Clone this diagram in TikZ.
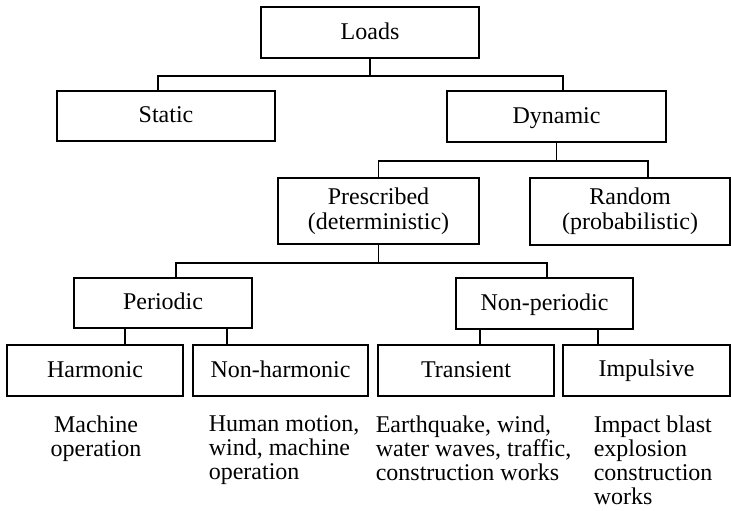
\documentclass[tikz,border=0pt]{standalone}
\usepackage{fontspec}
\setmainfont{Liberation Serif}
\usetikzlibrary{positioning}

\begin{document}
\begin{tikzpicture}[x=0.5pt, y=-0.5pt, line width=0.8pt,
    loadbox/.style={draw, inner sep=0pt, align=center, font=\fontsize{12}{12.5}\selectfont},
    oneline/.style={text height=8.2pt, text depth=1.4pt},
    note/.style={inner sep=0pt, anchor=north west, align=left, font=\fontsize{12}{12}\selectfont}]
  \useasboundingbox (0,0) rectangle (731,510);
  % Top: loads split into static and dynamic
  \node[loadbox, oneline, minimum width=109pt, minimum height=25.5pt] (loads) at (370,32.5) {Loads};
  \node[loadbox, oneline, minimum width=109pt, minimum height=25pt] (static) at (166,116) {Static};
  \node[loadbox, oneline, minimum width=109.5pt, minimum height=25.5pt] (dynamic) at (556.5,116.5) {Dynamic};
  % Dynamic loads
  \node[loadbox, minimum width=100.5pt, minimum height=33pt] (prescribed) at (378.5,211) {Prescribed\\(deterministic)};
  \node[loadbox, minimum width=100pt, minimum height=33.5pt] (random) at (630,211.5) {Random\\(probabilistic)};
  % Prescribed loads
  \node[loadbox, oneline, minimum width=89pt, minimum height=25pt] (periodic) at (163,303) {Periodic};
  \node[loadbox, oneline, minimum width=88.5pt, minimum height=25.5pt] (nonperiodic) at (544.5,303.5) {Non-periodic};
  % Bottom row
  \node[loadbox, oneline, minimum width=88pt, minimum height=25.5pt] (harmonic) at (95,370.5) {Harmonic};
  \node[loadbox, oneline, minimum width=87.5pt, minimum height=25.5pt] (nonharmonic) at (280.5,370.5) {Non-harmonic};
  \node[loadbox, oneline, minimum width=88pt, minimum height=25.5pt] (transient) at (466,370.5) {Transient};
  \node[loadbox, minimum width=83.5pt, minimum height=25.5pt] (impulsive) at (646.5,370.5) {Impulsive};
  % Examples under each kind
  \node[note, anchor=north, align=center] (harmnote) at (96,415) {Machine\\operation};
  \node[note] (nonharmnote) at (208,415) {Human motion,\\wind, machine\\operation};
  \node[note] (transnote) at (375,415) {Earthquake, wind,\\water waves, traffic,\\construction works};
  \node[note] (impnote) at (593,415) {Impact blast\\explosion\\construction\\works};

  % Tree lines
  \coordinate (s1) at ([xshift=-4pt]static.north);
  \coordinate (s2) at ([xshift=3.25pt]dynamic.north);
  \draw (loads.south) -- ++(0,17) coordinate (j1);
  \draw (s1) |- (j1) -| (s2);

  \coordinate (r1) at ([xshift=9pt]random.north);
  \draw (dynamic.south) -- ++(0,18) coordinate (j2);
  \draw (prescribed.north) |- (j2) -| (r1);

  \coordinate (p1) at ([xshift=6.5pt]periodic.north);
  \coordinate (n1) at ([xshift=1.25pt]nonperiodic.north);
  \draw (prescribed.south) -- ++(0,18) coordinate (j3);
  \draw (p1) |- (j3) -| (n1);

  \draw ([xshift=-19pt]periodic.south) -- ([xshift=15pt]harmonic.north);
  \draw ([xshift=32pt]periodic.south) -- ([xshift=-26.75pt]nonharmonic.north);
  \draw ([xshift=-32.25pt]nonperiodic.south) -- ([xshift=7pt]transient.north);
  \draw ([xshift=26.75pt]nonperiodic.south) -- ([xshift=-24.25pt]impulsive.north);
\end{tikzpicture}
\end{document}
